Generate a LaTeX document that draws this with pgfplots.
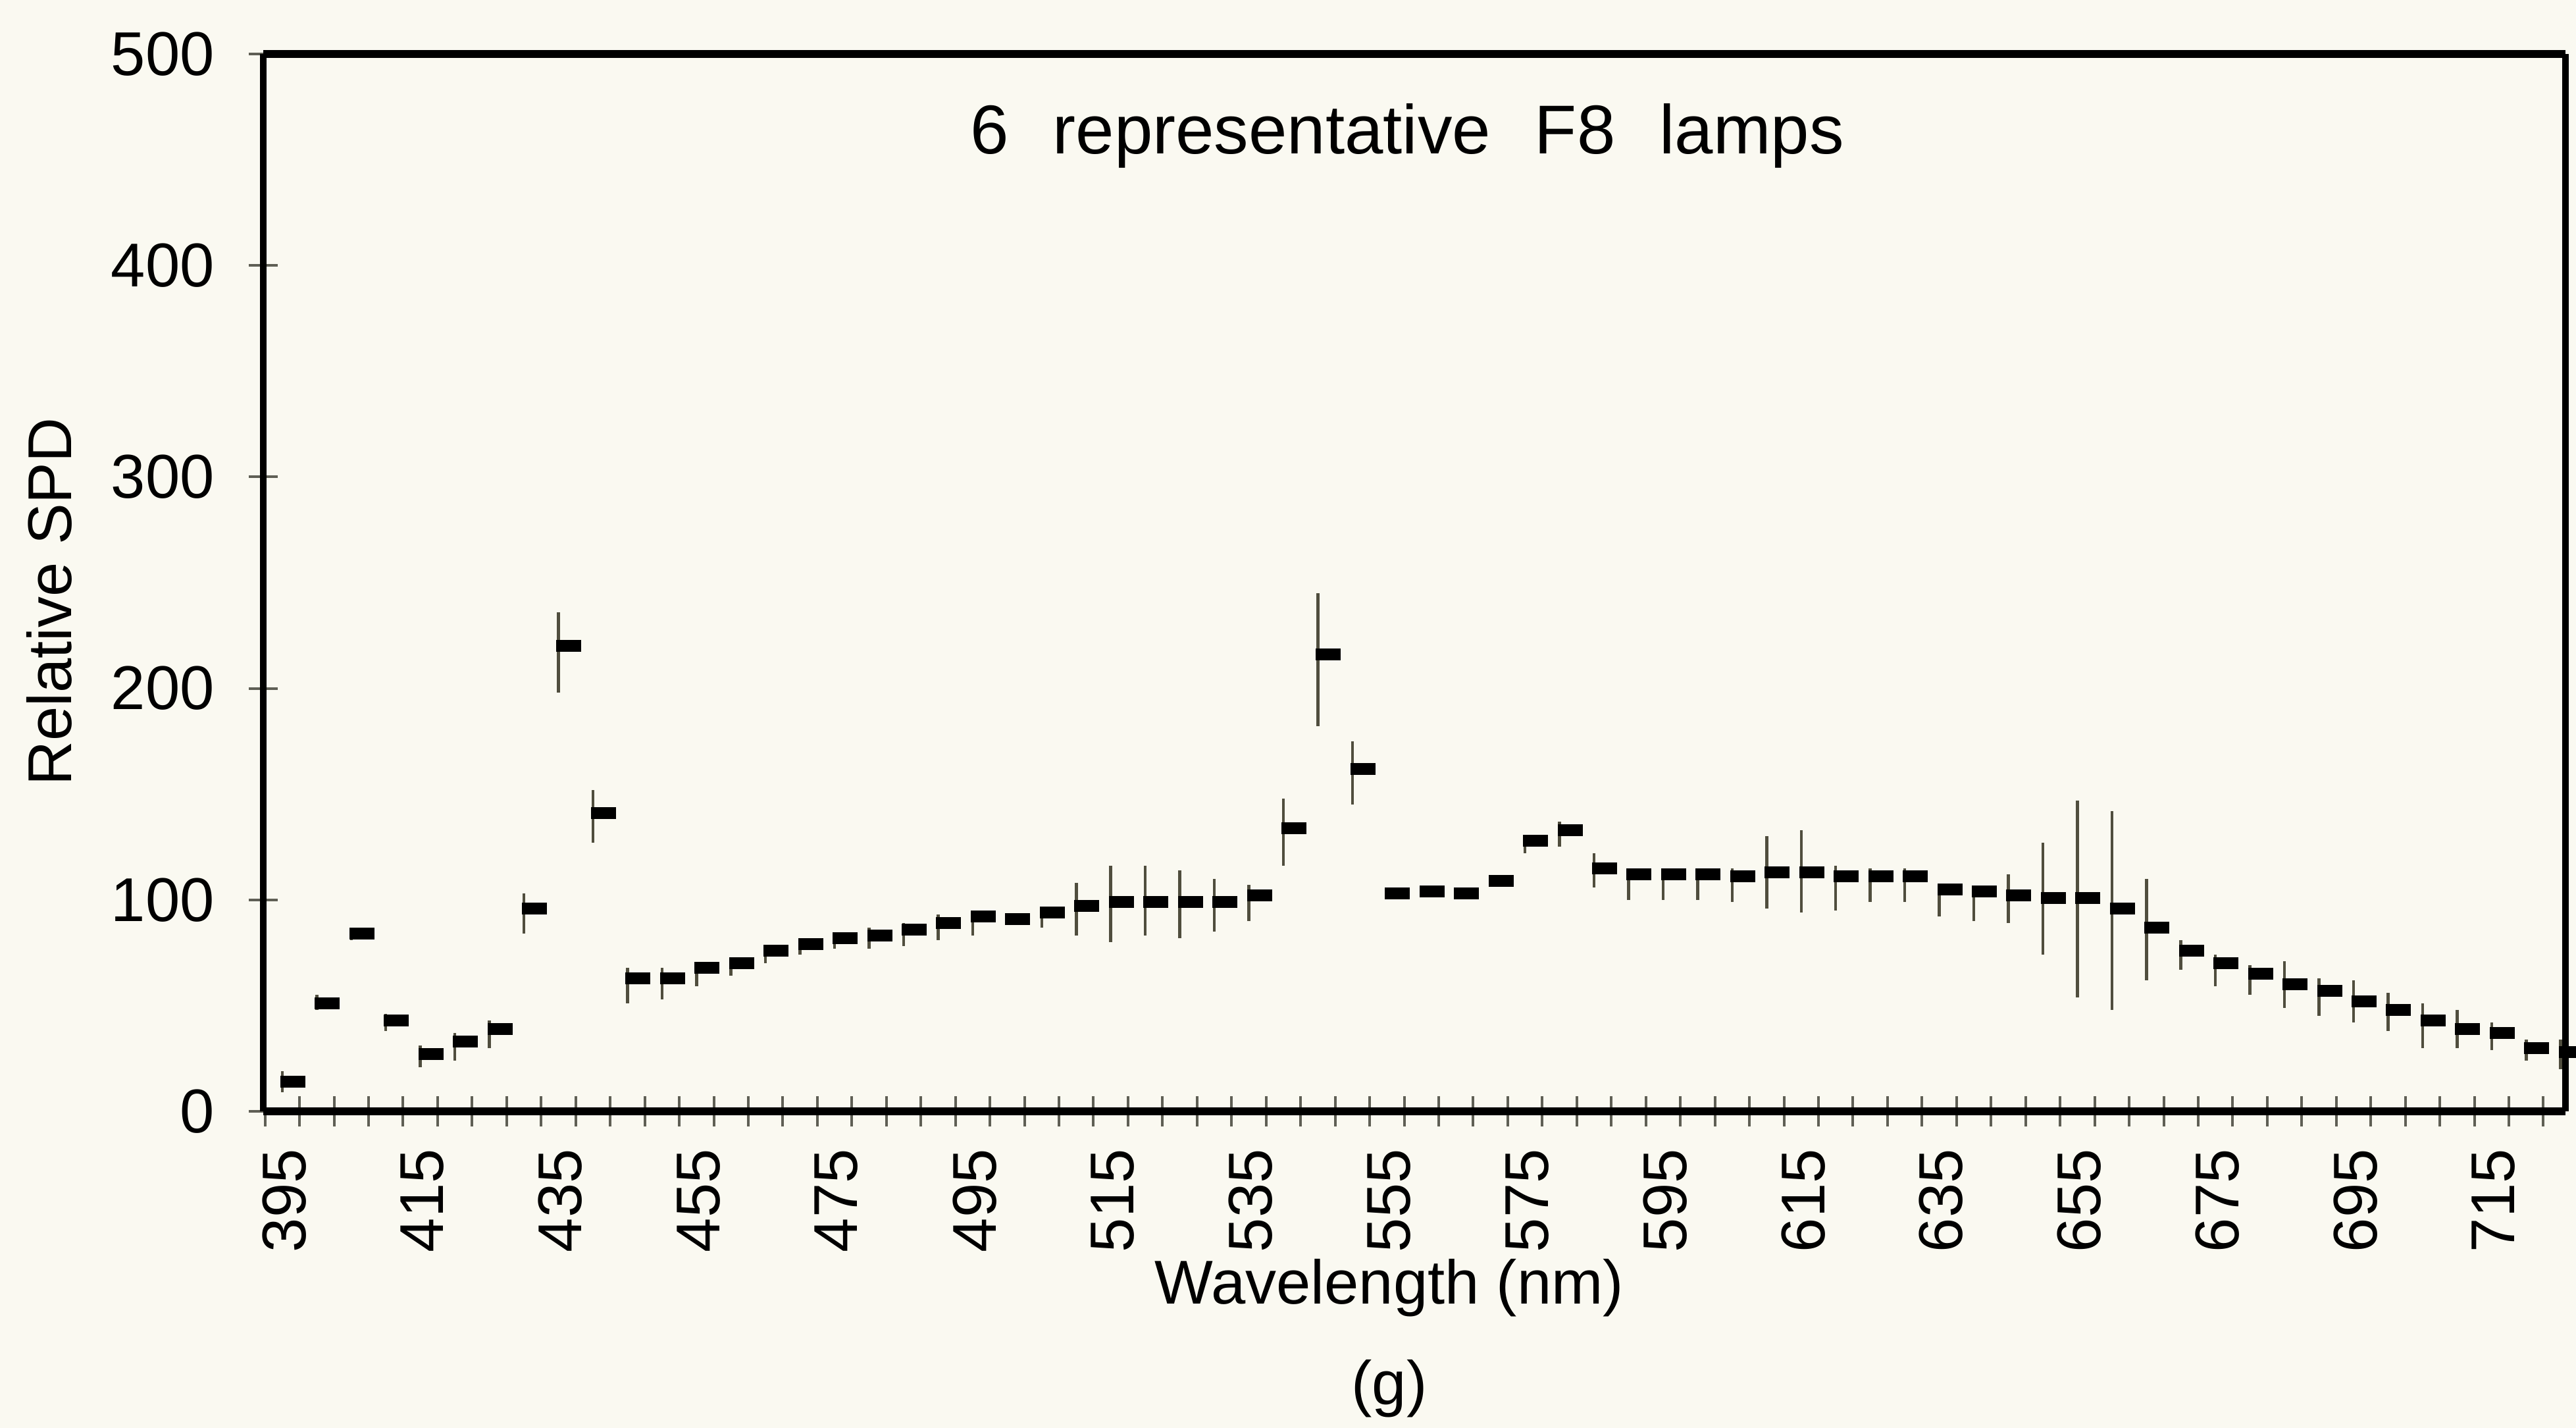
\documentclass[border=0pt]{standalone}
\usepackage{pgfplots}
\pgfplotsset{compat=1.18}
\usepackage{pgfplotstable}
\usepackage{fontspec}
\setmainfont{Liberation Sans}

\definecolor{paper}{RGB}{250,249,241}
\definecolor{rangeline}{RGB}{80,78,62}
\definecolor{tickgray}{RGB}{95,95,85}

% close marker: a short bar that starts at the high-low line and runs to the right
\pgfdeclareplotmark{closedash}{%
  \pgfpathrectangle{\pgfqpoint{-0.3pt}{-0.9pt}}{\pgfqpoint{3.8pt}{1.8pt}}%
  \pgfusepathqfill}

% relative SPD of 6 F8 lamps: mean, lowest and highest value per wavelength
\pgfplotstableread{
nm  mean  lo   hi
395  14    9   19
400  51   48   55
405  84   81   87
410  43   38   46
415  27   21   31
420  33   24   37
425  39   30   43
430  96   84  103
435 220  198  236
440 141  127  152
445  63   51   68
450  63   53   68
455  68   59   69
460  70   64   72
465  76   70   78
470  79   74   80
475  82   77   83
480  83   77   87
485  86   78   89
490  89   81   93
495  92   83   95
500  91   88   93
505  94   87   96
510  97   83  108
515  99   80  116
520  99   83  116
525  99   82  114
530  99   85  110
535 102   90  107
540 134  116  148
545 216  182  245
550 162  145  175
555 103  101  105
560 104  102  106
565 103  101  105
570 109  107  111
575 128  122  130
580 133  125  137
585 115  106  122
590 112  100  115
595 112  100  115
600 112  100  115
605 111   99  115
610 113   96  130
615 113   94  133
620 111   95  116
625 111   99  115
630 111   99  115
635 105   92  107
640 104   90  106
645 102   89  112
650 101   74  127
655 101   54  147
660  96   48  142
665  87   62  110
670  76   67   81
675  70   59   74
680  65   55   69
685  60   49   71
690  57   45   63
695  52   42   62
700  48   38   56
705  43   30   51
710  39   30   48
715  37   29   42
720  30   24   34
725  28   20   34
}\spd

\begin{document}
\begin{tikzpicture}
\useasboundingbox (0,0) rectangle (391.4pt,216.9pt);
\fill[paper] (0,0) rectangle (391.4pt,216.9pt);
\begin{axis}[
  at={(40pt,48.1pt)}, anchor=south west,
  scale only axis, width=349.8pt, height=160.6pt,
  xmin=-0.55, xmax=66.14, ymin=0, ymax=500,
  separate axis lines,
  every outer x axis line/.append style={line width=1.2pt, black},
  every outer y axis line/.append style={line width=1pt, black},
  ytick={0,100,...,500},
  xtick={0,4,...,64},
  xticklabels={395,415,435,455,475,495,515,535,555,575,595,615,635,655,675,695,715},
  minor xtick={-0.5,0.5,...,65.5},
  tick align=center,
  major tick length=4.4pt,
  minor tick length=4.6pt,
  major x tick style={draw=none},
  tick style={line width=0.4pt, tickgray},
  xtick pos=bottom, ytick pos=left,
  /pgf/number format/assume math mode=true,
  yticklabel style={font=\fontsize{9.4}{11}\selectfont, anchor=east, xshift=-1.7pt},
  xticklabel style={font=\fontsize{9.4}{11}\selectfont, rotate=90, anchor=east, yshift=-0.3pt},
]
\addplot[only marks, mark=closedash, mark options={fill=black, draw=none},
  error bars/.cd, y dir=both, y explicit, error mark=none,
  error bar style={line width=0.45pt, rangeline}]
  table[x expr=\coordindex, y=mean,
        y error plus expr=\thisrow{hi}-\thisrow{mean},
        y error minus expr=\thisrow{mean}-\thisrow{lo}] {\spd};
\end{axis}
\node[font=\fontsize{10.5}{12}\selectfont] at (213.8pt,196.3pt)
  {6\hspace{6.7pt}representative\hspace{6.7pt}F8\hspace{6.7pt}lamps};
\node[font=\fontsize{9.4}{11}\selectfont, rotate=90] at (7.5pt,125.5pt) {Relative SPD};
\node[font=\fontsize{9.4}{11}\selectfont] at (211.1pt,21.3pt) {Wavelength (nm)};
\node[font=\fontsize{9.4}{11}\selectfont] at (211.1pt,6.0pt) {(g)};
\end{tikzpicture}
\end{document}
